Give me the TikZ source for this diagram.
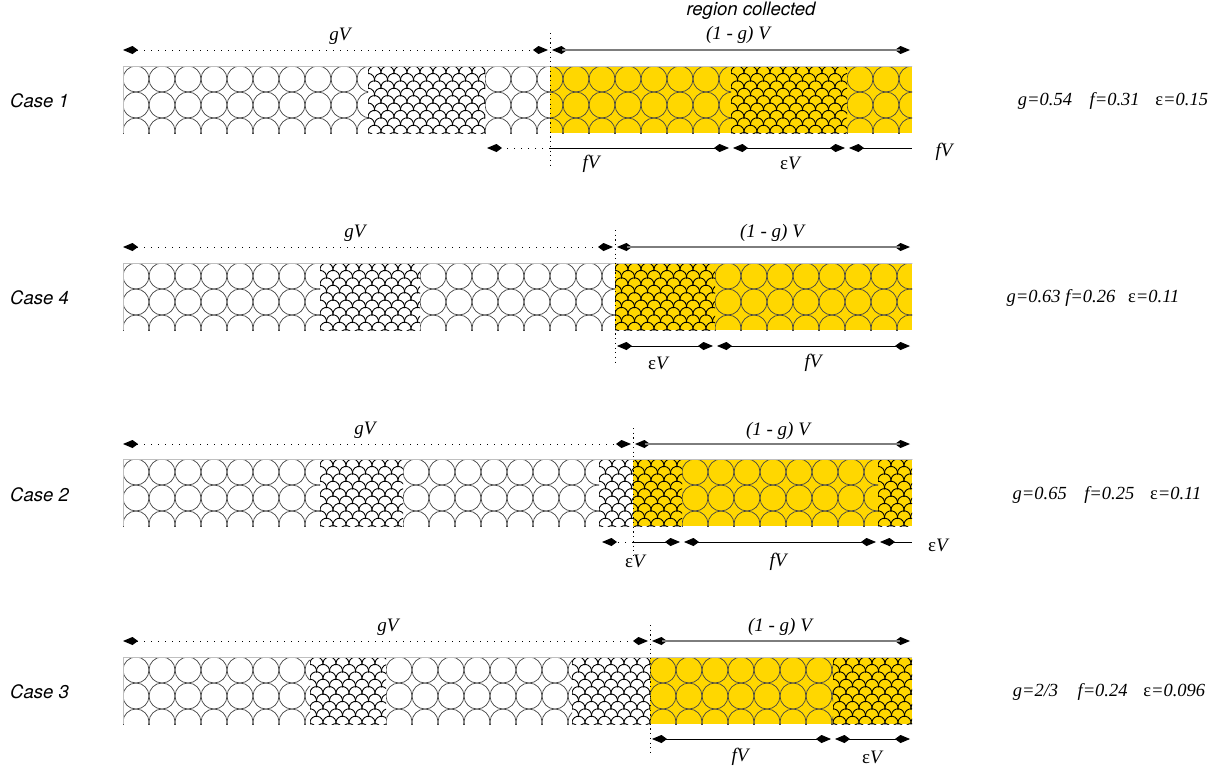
\documentclass[tikz,border=0pt]{standalone}
\usepackage{fontspec}
\setmainfont{Liberation Serif}
\setsansfont{TeX Gyre Heros}
\usepackage{xcolor}
\usetikzlibrary{arrows.meta,calc}

\definecolor{collectgold}{RGB}{255,215,0}
\definecolor{ballgray}{RGB}{70,70,70}
\definecolor{toplinegray}{RGB}{125,125,125}

% row of touching circles, clipped to one segment of a bar (x1, x2, top)
\newcommand{\ballseg}[3]{%
  \begin{scope}
    \clip (#1,#3) rectangle (#2,#3+67);
    \pgfmathtruncatemacro\ncol{(#2-#1)/26}
    \foreach \i in {0,...,\ncol}
      \foreach \j in {0,1,2}
        \draw[ballline] ({#1+13+26*\i},{#3+13+26*\j}) circle (13);
  \end{scope}}

% fish-scale texture, clipped to one segment of a bar (x1, x2, top)
\newcommand{\scaleseg}[3]{%
  \begin{scope}
    \clip (#1,#3) rectangle (#2,#3+67);
    \pgfmathtruncatemacro\nsc{(#2-#1)/13+1}
    \foreach \k in {0,...,9}{
      \pgfmathsetmacro\off{mod(\k,2)*6.5}
      \foreach \i in {-1,...,\nsc}
        \draw[scaleline] ({#1+\off+13*\i+6.5+6.5*cos(165)},{#3+6.5+7.4*\k+6.5*sin(165)})
          arc[start angle=165,end angle=375,radius=6.5];
    }
  \end{scope}}

\begin{document}
\begin{tikzpicture}[x=1pt,y=-1pt,
  >={Kite[length=15pt,width=8pt,inset=5.5pt]},
  ballline/.style={draw=ballgray, line width=0.7pt},
  scaleline/.style={draw=black, line width=0.9pt},
  baredge/.style={draw=black!25, line width=0.6pt},
  collected/.style={fill=collectgold},
  toptips/.style={draw=black, line width=1.2pt, <->, shorten <=2pt, shorten >=2pt},
  topline/.style={draw=toplinegray, line width=1.6pt, shorten <=12pt, shorten >=12pt},
  dotline/.style={draw=black, line width=1pt, dash pattern=on 1.2pt off 5.8pt},
  dimline/.style={draw=black, line width=0.8pt, shorten <=2pt, shorten >=2pt},
  divline/.style={draw=black, line width=0.9pt, dash pattern=on 1.2pt off 3.5pt},
  caselabel/.style={inner sep=0pt, anchor=west, font=\sffamily\itshape\fontsize{18.5}{22}\selectfont},
  dimlabel/.style={inner sep=0pt, font=\itshape\fontsize{19}{22}\selectfont},
  paramlabel/.style={inner sep=0pt, font=\itshape\fontsize{18.5}{22}\selectfont}]

\useasboundingbox (0,0) rectangle (1219,777);

% ---------------- Case 1 ----------------
\def\ytop{66}
\fill[collected] (550,\ytop) rectangle (912,\ytop+67);
\ballseg{123}{368}{\ytop}
\scaleseg{368}{485}{\ytop}
\ballseg{485}{731}{\ytop}
\scaleseg{731}{847}{\ytop}
\ballseg{847}{912}{\ytop}
\draw[baredge] (123,\ytop+67) -- (123,\ytop) -- (912,\ytop);

\foreach \name/\x in {L/123, D/550, R/912}
  \coordinate (c1t\name) at (\x,50);
\foreach \name/\x in {P/487, D/550, F/731, E/847, R/912}
  \coordinate (c1b\name) at (\x,148);
\coordinate (c1top) at (550,33);
\coordinate (c1bot) at (550,166);

\draw[divline] (c1top) -- (c1bot);
\draw[dotline, <->, shorten >=2pt] (c1tL) -- (c1tD);
\draw[toptips] (c1tD) -- (c1tR);
\draw[topline] (c1tD) -- (c1tR);
\draw[dotline, ->] (c1bD) -- (c1bP);
\draw[dimline, ->, shorten <=0pt] (c1bD) -- (c1bF);
\draw[dimline, <->] (c1bF) -- (c1bE);
\draw[dimline, <-, shorten >=0pt] (c1bE) -- (c1bR);

\node[caselabel] (case1) at (10,101) {Case 1};
\node[dimlabel] (c1g) at (340,36) {gV};
\node[dimlabel] (c1oneg) at (738,35) {(1 - g) V};
\node[caselabel, anchor=center] (collect) at (751,11) {region collected};
\node[dimlabel] (c1f) at (591,164) {fV};
\node[dimlabel] (c1e) at (790,163) {\textup{ε}V};
\node[dimlabel] (c1f2) at (944,152) {fV};
\node[paramlabel] (c1par) at (1113,101) {g=0.54\hspace{0.95em}f=0.31\hspace{0.85em}\textup{ε}=0.15};

% ---------------- Case 4 ----------------
\def\ytop{263}
\fill[collected] (615,\ytop) rectangle (912,\ytop+67);
\ballseg{123}{320}{\ytop}
\scaleseg{320}{420}{\ytop}
\ballseg{420}{615}{\ytop}
\scaleseg{615}{715}{\ytop}
\ballseg{715}{912}{\ytop}
\draw[baredge] (123,\ytop+67) -- (123,\ytop) -- (912,\ytop);

\foreach \name/\x in {L/123, D/615, R/912}
  \coordinate (c4t\name) at (\x,247);
\foreach \name/\x in {D/615, F/715, R/912}
  \coordinate (c4b\name) at (\x,346);
\coordinate (c4top) at (615,230);
\coordinate (c4bot) at (615,362);

\draw[divline] (c4top) -- (c4bot);
\draw[dotline, <->, shorten >=2pt] (c4tL) -- (c4tD);
\draw[toptips] (c4tD) -- (c4tR);
\draw[topline] (c4tD) -- (c4tR);
\draw[dimline, <->] (c4bD) -- (c4bF);
\draw[dimline, <->] (c4bF) -- (c4bR);

\node[caselabel] (case4) at (10,298) {Case 4};
\node[dimlabel] (c4g) at (355,233) {gV};
\node[dimlabel] (c4oneg) at (772,233) {(1 - g) V};
\node[dimlabel] (c4e) at (658,363) {\textup{ε}V};
\node[dimlabel] (c4f) at (813,363) {fV};
\node[paramlabel] (c4par) at (1093,298) {g=0.63 f=0.26\hspace{0.7em}\textup{ε}=0.11};

% ---------------- Case 2 ----------------
\def\ytop{459}
\fill[collected] (633,\ytop) rectangle (912,\ytop+67);
\ballseg{123}{320}{\ytop}
\scaleseg{320}{403}{\ytop}
\ballseg{403}{599}{\ytop}
\scaleseg{599}{682}{\ytop}
\ballseg{682}{878}{\ytop}
\scaleseg{878}{912}{\ytop}
\draw[baredge] (123,\ytop+67) -- (123,\ytop) -- (912,\ytop);

\foreach \name/\x in {L/123, D/633, R/912}
  \coordinate (c2t\name) at (\x,444);
\foreach \name/\x in {P/602, D/633, F/682, E/878, R/912}
  \coordinate (c2b\name) at (\x,542);
\coordinate (c2top) at (633,428);
\coordinate (c2bot) at (633,556);

\draw[divline] (c2top) -- (c2bot);
\draw[dotline, <->, shorten >=2pt] (c2tL) -- (c2tD);
\draw[toptips] (c2tD) -- (c2tR);
\draw[topline] (c2tD) -- (c2tR);
\draw[dotline, ->] (c2bD) -- (c2bP);
\draw[dimline, ->, shorten <=0pt] (c2bD) -- (c2bF);
\draw[dimline, <->] (c2bF) -- (c2bE);
\draw[dimline, <-, shorten >=0pt] (c2bE) -- (c2bR);

\node[caselabel] (case2) at (10,495) {Case 2};
\node[dimlabel] (c2g) at (365,430) {gV};
\node[dimlabel] (c2oneg) at (778,431) {(1 - g) V};
\node[dimlabel] (c2e) at (635,561) {\textup{ε}V};
\node[dimlabel] (c2f) at (778,562) {fV};
\node[dimlabel] (c2e2) at (938,545) {\textup{ε}V};
\node[paramlabel] (c2par) at (1107,495) {g=0.65\hspace{0.95em}f=0.25\hspace{0.85em}\textup{ε}=0.11};

% ---------------- Case 3 ----------------
\def\ytop{657}
\fill[collected] (650,\ytop) rectangle (912,\ytop+67);
\ballseg{123}{310}{\ytop}
\scaleseg{310}{386}{\ytop}
\ballseg{386}{572}{\ytop}
\scaleseg{572}{650}{\ytop}
\ballseg{650}{833}{\ytop}
\scaleseg{833}{912}{\ytop}
\draw[baredge] (123,\ytop+67) -- (123,\ytop) -- (912,\ytop);

\foreach \name/\x in {L/123, D/650, R/912}
  \coordinate (c3t\name) at (\x,641);
\foreach \name/\x in {D/650, F/833, R/912}
  \coordinate (c3b\name) at (\x,739);
\coordinate (c3top) at (650,625);
\coordinate (c3bot) at (650,752);

\draw[divline] (c3top) -- (c3bot);
\draw[dotline, <->, shorten >=2pt] (c3tL) -- (c3tD);
\draw[toptips] (c3tD) -- (c3tR);
\draw[topline] (c3tD) -- (c3tR);
\draw[dimline, <->] (c3bD) -- (c3bF);
\draw[dimline, <->] (c3bF) -- (c3bR);

\node[caselabel] (case3) at (10,692) {Case 3};
\node[dimlabel] (c3g) at (388,627) {gV};
\node[dimlabel] (c3oneg) at (780,627) {(1 - g) V};
\node[dimlabel] (c3f) at (740,757) {fV};
\node[dimlabel] (c3e) at (872,757) {\textup{ε}V};
\node[paramlabel] (c3par) at (1109,692) {g=2/3\hspace{1.05em}f=0.24\hspace{0.85em}\textup{ε}=0.096};

\end{tikzpicture}
\end{document}
